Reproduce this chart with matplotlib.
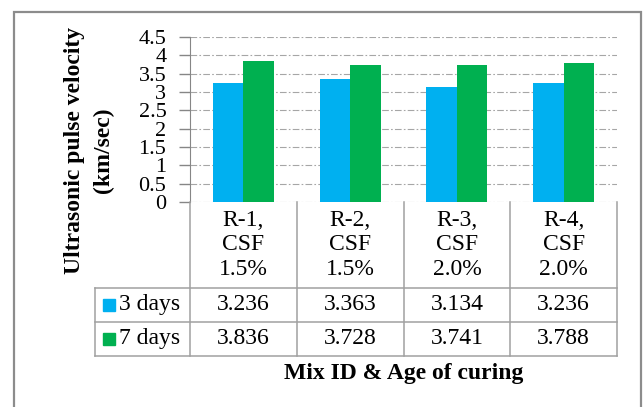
import matplotlib.pyplot as plt
import numpy as np
from matplotlib.patches import Rectangle

plt.rcParams['font.family'] = ['Liberation Serif', 'DejaVu Serif']

# data
mixes = ['R-1,\nCSF\n1.5%', 'R-2,\nCSF\n1.5%', 'R-3,\nCSF\n2.0%', 'R-4,\nCSF\n2.0%']
series = ['3 days', '7 days']
vel_3d = [3.236, 3.363, 3.134, 3.236]
vel_7d = [3.836, 3.728, 3.741, 3.788]
yticks = [0, 0.5, 1, 1.5, 2, 2.5, 3, 3.5, 4, 4.5]

colors = ['#00b0f0', '#00b050']
line_c = '#a0a0a0'
fs = 17

W, H = 643, 407
fig = plt.figure(figsize=(W / 100, H / 100), dpi=100)


def box(x0, y0, x1, y1):
    # pixel box (top-left origin) -> figure fraction
    return [x0 / W, 1 - y1 / H, (x1 - x0) / W, (y1 - y0) / H]


# outer chart frame
fig.patches.append(Rectangle((14 / W, -0.1), (641 - 14) / W, 1.1 - 12 / H,
                             transform=fig.transFigure, fill=False,
                             edgecolor='#8c8c8c', lw=1.6))

# ============ bars ============
ax = fig.add_axes(box(190, 37, 617, 202))
x = np.arange(len(mixes))
w = 1 / 3.5
ax.bar(x - w / 2, vel_3d, w, color=colors[0], zorder=3)
ax.bar(x + w / 2, vel_7d, w, color=colors[1], zorder=3)
ax.set_xlim(-0.5, len(mixes) - 0.5)
ax.set_ylim(0, 4.5)
ax.set_yticks(yticks)
ax.set_yticklabels([f'{t:g}' for t in yticks], fontsize=16)
ax.tick_params(axis='y', length=8, color='#868686', width=1, pad=9)
ax.set_xticks([])
ax.grid(axis='y', linestyle=(0, (6, 2, 1.5, 2)), color='#a6a6a6', lw=0.8)
ax.set_axisbelow(True)
for s in ['top', 'right', 'bottom']:
    ax.spines[s].set_visible(False)
ax.spines['left'].set_color('#868686')
ax.patch.set_alpha(0)

# ============ data table ============
colw = 427 / len(mixes)                     # px per category
left = -0.5 - (190 - 95) / colw             # label column in data units
tx = fig.add_axes(box(95, 202, 617, 356))
hdr = 2.5
tx.set_xlim(left, len(mixes) - 0.5)
tx.set_ylim(0, 2 + hdr)
tx.axis('off')

kw = dict(color=line_c, lw=1.1, clip_on=False)
for yy in [0, 1, 2]:
    tx.plot([left, len(mixes) - 0.5], [yy, yy], **kw)
tx.plot([left, left], [0, 2], **kw)
for i in range(len(mixes) + 1):
    tx.plot([i - 0.5, i - 0.5], [0, 2 + hdr], **kw)

for i, m in enumerate(mixes):
    tx.text(i, 2 + hdr / 2, m, ha='center', va='center', fontsize=fs,
            linespacing=1.22)
    tx.text(i, 1.5, f'{vel_3d[i]:.3f}', ha='center', va='center', fontsize=fs)
    tx.text(i, 0.5, f'{vel_7d[i]:.3f}', ha='center', va='center', fontsize=fs)

for r, (name, c) in enumerate(zip(series, colors)):
    yy = 1.5 - r
    tx.plot(left + 13.5 / colw, yy, marker='s', ms=9, color=c, clip_on=False)
    tx.text(left + 24 / colw, yy, name, ha='left', va='center', fontsize=fs)

# axis titles
fig.text(404 / W, 1 - 373 / H, 'Mix ID & Age of curing', ha='center',
         va='center', fontsize=17, fontweight='bold')
fig.text(89 / W, 1 - 150 / H, 'Ultrasonic pulse velocity\n(km/sec)',
         ha='center', va='center', rotation=90, fontsize=17,
         fontweight='bold', multialignment='center', linespacing=1.45)

fig.savefig('out.png', dpi=100)
